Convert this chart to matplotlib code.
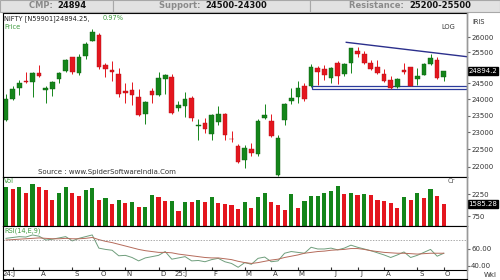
import matplotlib
matplotlib.use('Agg')
import matplotlib.pyplot as plt
import matplotlib.transforms as mtransforms
from matplotlib.patches import Rectangle
from matplotlib.lines import Line2D
import numpy as np

# weekly NIFTY candles, week ending 28-Jun-24 .. 03-Oct-25
opens = [23382, 24010, 24365, 24587, 24531, 24835, 24300, 24320, 24636, 24906,
         25333, 24823, 25384, 25872, 26061, 25085, 24915, 24798, 24250, 24304,
         24087, 23557, 24253, 24140, 24639, 24700, 23738, 23801, 24045, 23196,
         23290, 22940, 23320, 23543, 22810, 22609, 22194, 22521, 22353, 23433,
         23341, 21758, 23368, 23949, 24070, 24420, 24420, 25005, 24956, 24669,
         25161, 24787, 25150, 25551, 25450, 25149, 25010, 24782, 24597, 24372,
         24938, 25023, 24626, 24773, 25118, 25238, 24691]
highs = [24174, 24401, 24592, 24854, 24861, 25078, 24419, 24581, 24867, 25268,
         25333, 25433, 25849, 26277, 26135, 25143, 25212, 24978, 24498, 24537,
         24336, 23956, 24355, 24857, 24792, 24782, 23939, 24226, 24089, 23391,
         23426, 23546, 23807, 23568, 23049, 22668, 22633, 22677, 23403, 23869,
         23565, 22923, 23873, 24365, 24589, 24526, 25116, 25070, 25079, 25030,
         25222, 25136, 25655, 25669, 25548, 25255, 25247, 24956, 24734, 24673,
         25154, 25022, 24980, 25140, 25448, 25331, 24904]
lows = [23350, 23992, 24141, 24509, 24074, 24686, 23894, 24100, 24522, 24874,
        24801, 24754, 25285, 25871, 24967, 24694, 24567, 24074, 23894, 23816,
        23484, 23263, 23873, 24098, 24181, 23537, 23647, 23460, 23344, 22787,
        22981, 22787, 23222, 22774, 22720, 22105, 21964, 22314, 22314, 23412,
        22857, 21743, 23207, 23847, 23889, 23935, 24378, 24462, 24614, 24526,
        24473, 24736, 24824, 25331, 25129, 24919, 24807, 24536, 24337, 24345,
        24788, 24404, 24432, 24751, 25084, 24629, 24587]
closes = [24010, 24324, 24502, 24531, 24835, 24718, 24368, 24541, 24823, 25236,
          24852, 25357, 25791, 26179, 25015, 24964, 24854, 24181, 24205, 24148,
          23532, 23907, 24131, 24677, 24768, 23588, 23813, 24005, 23432, 23203,
          23092, 23508, 23560, 22930, 22796, 22125, 22553, 22397, 23350, 23519,
          22904, 22829, 23851, 24039, 24346, 24008, 25019, 24853, 24751, 25003,
          24719, 25112, 25637, 25461, 25150, 24968, 24837, 24565, 24363, 24631,
          24870, 24427, 24741, 25114, 25327, 24655, 24894]
# volume in Cr
volume = [2748, 2570, 2750, 2298, 2932, 2748, 2523, 1841, 2298, 2707,
          2298, 2114, 2523, 2639, 1841, 1957, 1568, 1841, 1659, 1705,
          1343, 1350, 2203, 2025, 1793, 1800, 1111, 1725, 1705, 1841,
          1705, 2066, 1620, 1600, 1480, 1207, 1705, 1275, 2025, 2339,
          1684, 1500, 1159, 2250, 1316, 1773, 2134, 2140, 2339, 2475,
          2796, 2250, 2298, 2162, 2230, 2210, 1841, 1773, 1614, 1275,
          2066, 1841, 2339, 2000, 2570, 2134, 1585.28]
rsi = [72.5, 73.5, 74.5, 74, 76.5, 75, 70.5, 71.5, 73, 74.5,
       69.5, 72.5, 74.5, 76.5, 61, 59.5, 58.5, 52, 52.5, 50,
       46, 49.5, 51, 52.5, 57, 48, 49.5, 51, 46, 46.5,
       45, 47.5, 49, 45, 43, 38.5, 44, 42, 49, 50.5,
       45, 46, 55, 57, 56, 55, 62, 60, 60, 61,
       59, 61, 64.5, 62, 60, 58, 55.5, 53, 50, 53,
       56.5, 50, 52.5, 56, 59.5, 51.5, 55]
rsi_signal = [70.5, 71, 71.5, 72, 72.5, 73, 72.5, 72, 72, 72.5,
              72, 72, 72.5, 73.5, 71, 69, 67.5, 65.5, 63.5, 61.5,
              59.5, 58, 57, 56, 56, 55.5, 54, 53, 52, 51,
              50, 49.5, 49.5, 48.5, 47.5, 45.5, 44, 43, 44, 45.5,
              47, 48, 50, 51.5, 53, 55, 56, 57, 57.5, 58.5,
              59, 59.5, 60.5, 60.5, 59.5, 58, 57, 56, 55.5, 55,
              55, 54.5, 54, 54.5, 55, 55, 55]

month_labels = ['24:J', 'A', 'S', 'O', 'N', 'D', '25:J', 'F', 'M', 'A', 'M', 'J', 'J', 'A', 'S', 'O']
month_start = [1, 5, 10, 14, 18, 23, 27, 31, 36, 40, 44, 49, 53, 57, 62, 66]
price_ticks = [22000, 22500, 23000, 23500, 24000, 24500, 25000, 25500, 26000]
vol_ticks = [750, 2250]
rsi_ticks = [40, 60]

# drawn levels
resist_x = [51.3, 69.5]
resist_y = [25831, 25356]
support_x = [46.2, 69.5]
support_band = [24330, 24424]

cmp_val = '24894'
support_txt = '24500-24300'
resist_txt = '25200-25500'

GREEN = '#14851a'
RED = '#e4161e'
TXT_G = '#3f9a3f'

W, H = 500, 280
def fx(x):
    return x / W
def fy(y):
    return 1 - y / H

fig = plt.figure(figsize=(5, 2.8), dpi=100)
fig.patch.set_facecolor('white')

idx = np.arange(len(closes))
up = np.array(closes) >= np.array(opens)

ax_p = fig.add_axes([fx(3), fy(176.5), 464 / W, 163.5 / H])
ax_v = fig.add_axes([fx(3), fy(226), 464 / W, 49.5 / H], sharex=ax_p)
ax_r = fig.add_axes([fx(3), fy(270), 464 / W, 44 / H], sharex=ax_p)

# --- price candles
ax_p.set_yscale('log')
for i in idx:
    col = GREEN if up[i] else RED
    ax_p.vlines(i, lows[i], highs[i], color=col, lw=0.7, zorder=2)
body_lo = np.minimum(opens, closes)
body_h = np.maximum(np.abs(np.array(closes) - np.array(opens)), 12)
ax_p.bar(idx, body_h, bottom=body_lo, width=0.7,
         color=[GREEN if u else RED for u in up],
         edgecolor=['#0c5e10' if u else '#b01018' for u in up], lw=0.3, zorder=3)

ax_p.plot(resist_x, resist_y, color='#2b2f8c', lw=1.0, zorder=4)
ax_p.add_patch(Rectangle((support_x[0], support_band[0]), support_x[1] - support_x[0],
                         support_band[1] - support_band[0], facecolor='white',
                         edgecolor='#2b3a9c', lw=0.9, zorder=1))

ax_p.set_ylim(21727, 26826)
ax_p.set_xlim(-0.45, 69.5)
ax_p.yaxis.tick_right()
ax_p.set_yticks(price_ticks)
# 25000 sits behind the last-price box
ax_p.set_yticklabels(['' if t == 25000 else str(t) for t in price_ticks])
ax_p.yaxis.set_minor_locator(matplotlib.ticker.NullLocator())
ax_p.tick_params(axis='y', labelsize=5, length=2, pad=1, color='#666', labelcolor='#333')
ax_p.tick_params(axis='x', bottom=False, labelbottom=False)

ax_p.text(1.003, closes[-1], '24894.2', transform=mtransforms.blended_transform_factory(ax_p.transAxes, ax_p.transData),
          ha='left', va='center', fontsize=5, color='white',
          bbox=dict(boxstyle='square,pad=0.12', fc='black', ec='black'), zorder=10, clip_on=False)
ax_p.text(0.003, 0.985, 'NIFTY [N59901]24894.25, ', transform=ax_p.transAxes, fontsize=4.8, va='top', color='#222')
ax_p.text(0.215, 0.985, '0.97%', transform=ax_p.transAxes, fontsize=4.8, va='top', color=TXT_G)
ax_p.text(0.003, 0.935, 'Price', transform=ax_p.transAxes, fontsize=4.8, va='top', color=TXT_G)
ax_p.text(0.975, 0.93, 'LOG', transform=ax_p.transAxes, fontsize=4.8, va='top', ha='right', color='#333')
ax_p.text(0.075, 0.01, 'Source : www.SpiderSoftwareIndia.Com', transform=ax_p.transAxes,
          fontsize=5, va='bottom', color='#333')

# --- volume
vol_col = [GREEN] + [GREEN if volume[k] > volume[k - 1] else RED for k in range(1, len(volume))]
ax_v.bar(idx, volume, width=0.62, color=vol_col, lw=0)
ax_v.set_ylim(68, 3444)
ax_v.yaxis.tick_right()
ax_v.set_yticks(vol_ticks)
ax_v.set_yticklabels([str(t) for t in vol_ticks])
ax_v.tick_params(axis='y', labelsize=5, length=2, pad=1, color='#666', labelcolor='#333')
ax_v.tick_params(axis='x', bottom=False, labelbottom=False)
ax_v.text(1.003, volume[-1], '1585.28', transform=mtransforms.blended_transform_factory(ax_v.transAxes, ax_v.transData),
          ha='left', va='center', fontsize=5, color='white',
          bbox=dict(boxstyle='square,pad=0.12', fc='black', ec='black'), zorder=10, clip_on=False)
ax_v.text(0.003, 0.97, 'Vol', transform=ax_v.transAxes, fontsize=4.8, va='top', color=TXT_G)
ax_v.text(0.975, 0.97, 'Cr', transform=ax_v.transAxes, fontsize=4.8, va='top', ha='right', color='#555')

# --- RSI
ax_r.plot(idx, rsi, color='#6f9e7c', lw=0.7)
ax_r.plot(idx, rsi_signal, color='#b56b5b', lw=0.7)
ax_r.axhline(70, color='#888', lw=0.5, ls=(0, (2, 2)))
ax_r.set_ylim(35.3, 87)
ax_r.yaxis.tick_right()
ax_r.set_yticks(rsi_ticks)
ax_r.set_yticklabels(['%.2f' % t for t in rsi_ticks])
ax_r.tick_params(axis='y', labelsize=5, length=2, pad=1, color='#666', labelcolor='#333')
ax_r.text(0.003, 0.97, 'RSI(14,E,9)', transform=ax_r.transAxes, fontsize=4.8, va='top', color=TXT_G)

ax_r.set_xticks(month_start)
ax_r.set_xticklabels(month_labels)
ax_r.tick_params(axis='x', labelsize=5, length=2, pad=1, direction='in', color='#333', labelcolor='#333')
for lab in ax_r.get_xticklabels():
    dx = -4 if ':' in lab.get_text() else 4
    lab.set_transform(lab.get_transform() + mtransforms.ScaledTranslation(dx / 100, 0, fig.dpi_scale_trans))

for ax in (ax_p, ax_v, ax_r):
    for s in ('left', 'top', 'bottom'):
        ax.spines[s].set_color('black')
        ax.spines[s].set_linewidth(0.8)
    ax.spines['right'].set_color('#999')
    ax.spines['right'].set_linewidth(1.0)
    ax.set_facecolor('white')

# right-hand separator and outer frame
fig.add_artist(Line2D([fx(467), fx(467)], [fy(13), fy(280)], color='#999', lw=1.0))
fig.add_artist(Line2D([fx(3), fx(3)], [fy(270), fy(279)], color='black', lw=0.8))
fig.add_artist(Line2D([fx(3), fx(467)], [fy(279), fy(279)], color='black', lw=0.8))
fig.text(fx(472), fy(22), 'IRIS', fontsize=4.8, va='center', color='#333')
fig.text(fx(490), fy(275), 'Wkl', fontsize=5, va='center', ha='center', color='#333')

# header boxes
for x0, x1 in [(0, 113), (113, 310), (310, 500)]:
    fig.add_artist(Rectangle((fx(x0), fy(11.5)), (x1 - x0) / W, 11.5 / H,
                             facecolor='#e2e2e2', edgecolor='#a8a8a8', lw=0.8))
hdr = dict(fontsize=6, fontweight='bold', va='center')
fig.text(fx(56), fy(5.5), 'CMP: ', ha='right', color='#8a8a8a', **hdr)
fig.text(fx(57), fy(5.5), cmp_val, ha='left', color='#111', **hdr)
fig.text(fx(203), fy(5.5), 'Support: ', ha='right', color='#8a8a8a', **hdr)
fig.text(fx(205), fy(5.5), support_txt, ha='left', color='#111', **hdr)
fig.text(fx(407), fy(5.5), 'Resistance: ', ha='right', color='#8a8a8a', **hdr)
fig.text(fx(409), fy(5.5), resist_txt, ha='left', color='#111', **hdr)

fig.savefig('out.png', dpi=100)
